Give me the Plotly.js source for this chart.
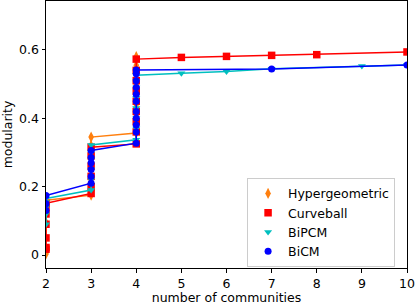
<!DOCTYPE html>
<html>
<head>
<meta charset="utf-8">
<script src="https://cdn.plot.ly/plotly-3.0.1.min.js"></script>
<style>html,body{margin:0;padding:0;background:#fff;}#chart{width:415px;height:305px;}</style>
</head>
<body>
<div id="chart"></div>
<script>
// Hypergeometric
const hyperX = [2,2,2,2,2,2, 3,3,3,3,3,3,3,3, 4,4,4,4,4,4,4,4,4];
const hyperY = [0.003,0.008,0.095,0.13,0.155,0.16, 0.175,0.19,0.22,0.25,0.28,0.30,0.32,0.345, 0.357,0.38,0.41,0.44,0.47,0.50,0.53,0.555,0.58];
// Curveball
const curveX = [2,2,2,2,2,2,2, 3,3,3,3,3,3, 4,4,4,4,4,4,4,4,4, 5,6,7,8,10];
const curveY = [0.017,0.022,0.05,0.09,0.12,0.14,0.151, 0.18,0.20,0.23,0.26,0.29,0.315, 0.325,0.36,0.39,0.42,0.45,0.48,0.51,0.54,0.573, 0.578,0.581,0.584,0.586,0.594];
// BiPCM
const bipcmX = [2,2,2,2,2, 3,3,3,3,3,3, 4,4,4,4,4,4,4,4, 5,6,7,9,10];
const bipcmY = [0.09,0.12,0.14,0.155,0.165, 0.19,0.22,0.25,0.28,0.30,0.322, 0.337,0.37,0.40,0.43,0.46,0.49,0.51,0.526, 0.532,0.537,0.545,0.553,0.556];
// BiCM
const bicmX = [2,2,2, 3,3,3,3,3,3, 4,4,4,4,4,4,4,4,4,4,4, 7,10];
const bicmY = [0.13,0.15,0.174, 0.21,0.23,0.25,0.27,0.285,0.306, 0.327,0.36,0.38,0.40,0.42,0.45,0.47,0.49,0.51,0.53,0.541, 0.544,0.556];

const names = ["Hypergeometric","Curveball","BiPCM","BiCM"];
const colors = ["#ff7f0e","#ff0000","#00bfbf","#0000ff"];
const symbols = ["diamond-tall","square","triangle-down","circle"];
const sizes = [8,7.5,7,7];
const xs = [hyperX, curveX, bipcmX, bicmX];
const ys = [hyperY, curveY, bipcmY, bicmY];

const traces = [];
for (let i = 0; i < 4; i++) {
  traces.push({x: xs[i], y: ys[i], type: 'scatter', mode: 'lines', showlegend: false,
    line: {color: colors[i], width: 1.5}, hoverinfo: 'skip'});
  traces.push({x: xs[i], y: ys[i], type: 'scatter', mode: 'markers', name: names[i],
    marker: {color: colors[i], symbol: symbols[i], size: sizes[i], line: {width: 0}}});
}

const font = {family: "DejaVu Sans", size: 12.5, color: "#000"};
const layout = {
  width: 415, height: 305,
  margin: {l: 46, r: 8, t: 1, b: 37},
  paper_bgcolor: "#fff", plot_bgcolor: "#fff",
  font: font,
  showlegend: true,
  legend: {x: 0.557, y: 0.338, xanchor: 'left', yanchor: 'top', bordercolor: '#cccccc', borderwidth: 1,
    bgcolor: 'rgba(255,255,255,0.8)', font: font, tracegroupgap: 0},
  xaxis: {range: [2, 10], tickvals: [2,3,4,5,6,7,8,9,10], showgrid: false, zeroline: false,
    showline: true, mirror: true, linecolor: '#000', linewidth: 1,
    ticks: 'outside', ticklen: 3.5, tickwidth: 1, tickcolor: '#000',
    title: {text: "number of communities", font: font, standoff: 4}},
  yaxis: {range: [-0.038, 0.743], tickvals: [0,0.2,0.4,0.6], ticktext: ["0","0.2","0.4","0.6"],
    showgrid: false, zeroline: false,
    showline: true, mirror: true, linecolor: '#000', linewidth: 1,
    ticks: 'outside', ticklen: 3.5, tickwidth: 1, tickcolor: '#000',
    title: {text: "modularity", font: font, standoff: 8}}
};
Plotly.newPlot('chart', traces, layout, {displayModeBar: false, staticPlot: true});
</script>
</body>
</html>
